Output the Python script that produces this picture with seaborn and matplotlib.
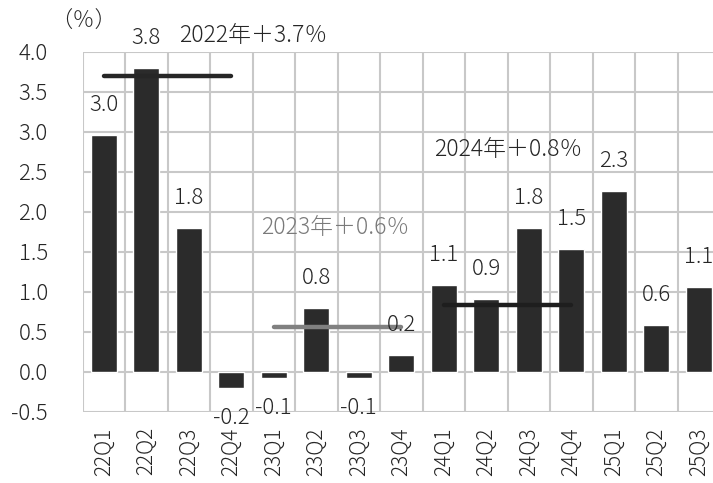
import matplotlib
matplotlib.use("Agg")
import matplotlib.pyplot as plt
import seaborn as sns
import pandas as pd

# Quarterly real GDP growth, year-on-year (%)
quarters = ["22Q1", "22Q2", "22Q3", "22Q4", "23Q1", "23Q2", "23Q3", "23Q4",
            "24Q1", "24Q2", "24Q3", "24Q4", "25Q1", "25Q2", "25Q3"]
growth = [2.96, 3.8, 1.8, -0.2, -0.07, 0.8, -0.07, 0.21,
          1.09, 0.91, 1.8, 1.54, 2.26, 0.59, 1.06]

# Annual averages: year, value, first and last quarter of the year
annual_years = ["2022", "2023", "2024"]
annual_values = [3.7, 0.56, 0.84]
annual_spans = [("22Q1", "22Q4"), ("23Q1", "23Q4"), ("24Q1", "24Q4")]
annual_colors = ["#262626", "#808080", "#1e1e1e"]
caption_colors = ["#262626", "#7a7a7a", "#262626"]

yticks = [-0.5, 0.0, 0.5, 1.0, 1.5, 2.0, 2.5, 3.0, 3.5, 4.0]

sns.set_theme(style="white")
plt.rcParams["font.family"] = ["Noto Sans CJK JP", "DejaVu Sans"]
FS = 16
TXT = "#262626"

W, H = 713, 483
fig = plt.figure(figsize=(W / 100, H / 100), dpi=100)
left, right, top, bottom = 82.5, 720, 52, 412
ax = fig.add_axes([left / W, 1 - bottom / H, (right - left) / W, (bottom - top) / H])

df = pd.DataFrame({"quarter": quarters, "growth": growth})
sns.barplot(data=df, x="quarter", y="growth", color="#2b2b2b", saturation=1,
            width=0.61, ax=ax, zorder=3)

ax.set_xlim(-0.5, len(quarters) - 0.5)
ax.set_ylim(-0.5, 4.0)
ax.set_yticks(yticks)
ax.set_yticklabels([f"{t:.1f}" for t in yticks], fontsize=FS, color=TXT,
                   fontweight="light")

# grid: horizontal at every tick, vertical at category boundaries
grid_c = "#c8c8c8"
for t in yticks:
    ax.axhline(t, color=grid_c, lw=1.5, zorder=1)
for k in range(len(quarters) + 1):
    ax.axvline(k - 0.5, color=grid_c, lw=1.5, zorder=1)
for s in ax.spines.values():
    s.set_visible(False)

ax.set_xlabel("")
ax.set_ylabel("")
ax.tick_params(axis="both", length=0)
ax.tick_params(axis="y", pad=25)
ax.set_xticks(range(len(quarters)))
ax.set_xticklabels(quarters, rotation=90, fontsize=15, color=TXT,
                   fontweight="light")
ax.tick_params(axis="x", pad=11)

# value labels
for i, v in enumerate(growth):
    off = 21.6 if v >= 0 else -21.6
    ax.annotate(f"{v:.1f}", (i, v), xytext=(0, off), textcoords="offset points",
                ha="center", va="center", fontsize=FS, color=TXT,
                fontweight="light", zorder=5, annotation_clip=False)

# annual average lines
for (a, b), val, c in zip(annual_spans, annual_values, annual_colors):
    ax.plot([quarters.index(a), quarters.index(b)], [val, val], color=c,
            lw=3.2, solid_capstyle="round", zorder=4)

# annual average captions
cap_pos = [(253, 35), (335, 228), (508, 150)]
for (px, py), yr, val, c in zip(cap_pos, annual_years, annual_values, caption_colors):
    fig.text(px / W, 1 - py / H, f"{yr}年＋{val:.1f}％", ha="center", va="center",
             fontsize=16.5, color=c, fontweight="light")

fig.text(84 / W, 1 - 22 / H, "（％）", ha="center", va="center",
         fontsize=FS, color=TXT, fontweight="light")

fig.savefig("out.png", dpi=100)
